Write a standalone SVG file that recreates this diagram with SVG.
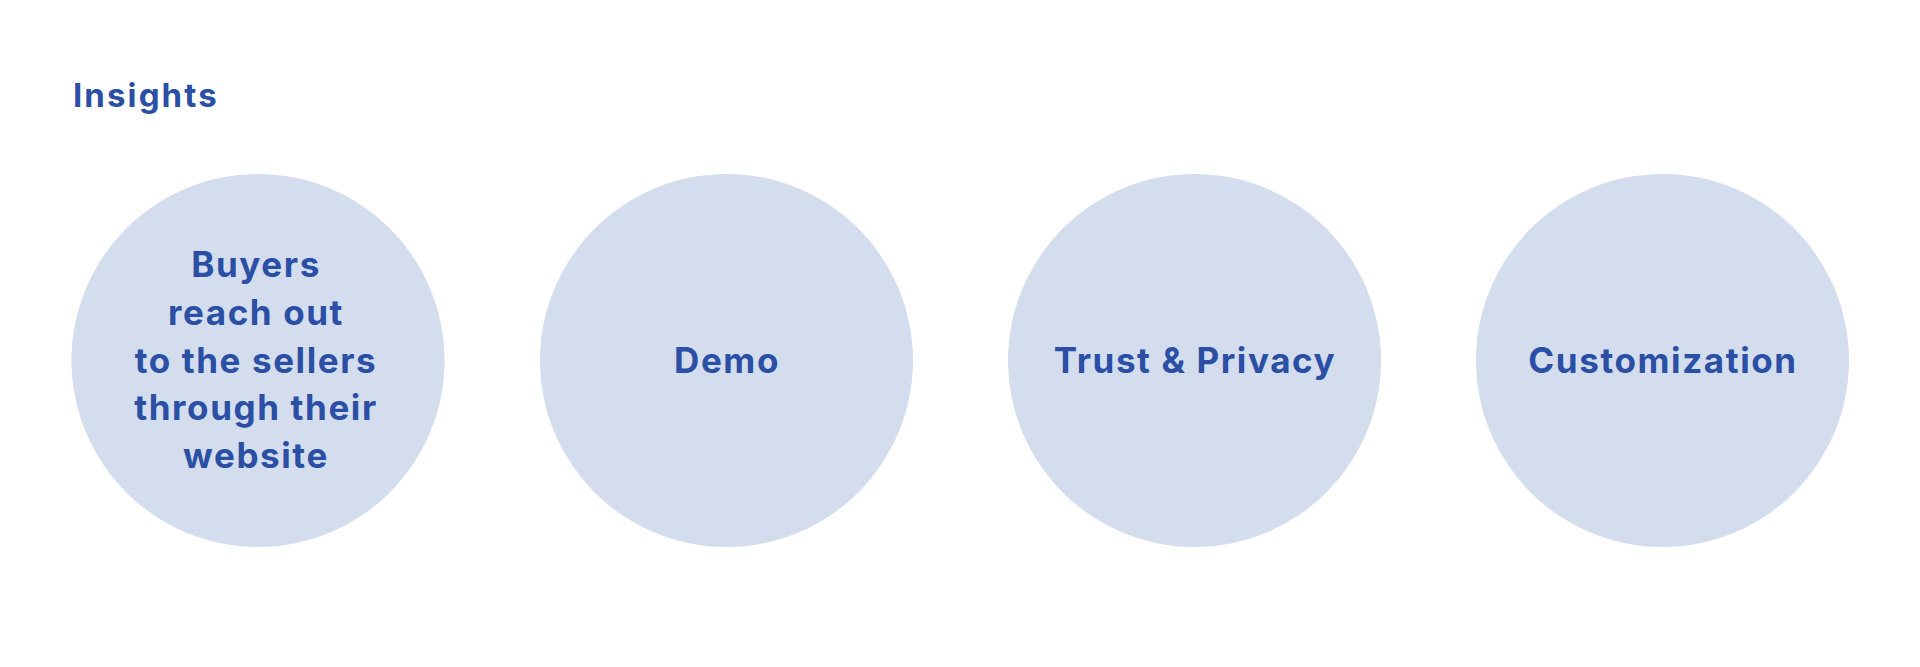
<svg xmlns="http://www.w3.org/2000/svg" width="1920" height="667" viewBox="0 0 1920 667">
<style>
.c{fill:#d3ddee}
.t{fill:#2a4fa4;font-family:Inter,"Noto Sans","Liberation Sans",sans-serif;font-weight:650;font-size:35px;letter-spacing:1.6px;text-anchor:middle}
.h{fill:#2a4fa4;font-family:Inter,"Noto Sans","Liberation Sans",sans-serif;font-weight:650;font-size:33px;letter-spacing:2.1px}
</style>
<rect width="1920" height="667" fill="#ffffff"/>
<text class="h" x="73" y="107">Insights</text>
<g id="node1">
<circle class="c" cx="258" cy="360.5" r="186.5"/>
<text class="t" x="256" y="277">Buyers</text>
<text class="t" x="256" y="325">reach out</text>
<text class="t" x="256" y="373">to the sellers</text>
<text class="t" x="256" y="420">through their</text>
<text class="t" x="256" y="468">website</text>
</g>
<g id="node2">
<circle class="c" cx="726.5" cy="360.5" r="186.5"/>
<text class="t" x="727" y="373">Demo</text>
</g>
<g id="node3">
<circle class="c" cx="1194.5" cy="360.5" r="186.5"/>
<text class="t" x="1195" y="373">Trust &amp; Privacy</text>
</g>
<g id="node4">
<circle class="c" cx="1662.5" cy="360.5" r="186.5"/>
<text class="t" x="1663" y="373">Customization</text>
</g>
<g id="connectors"></g>
</svg>
